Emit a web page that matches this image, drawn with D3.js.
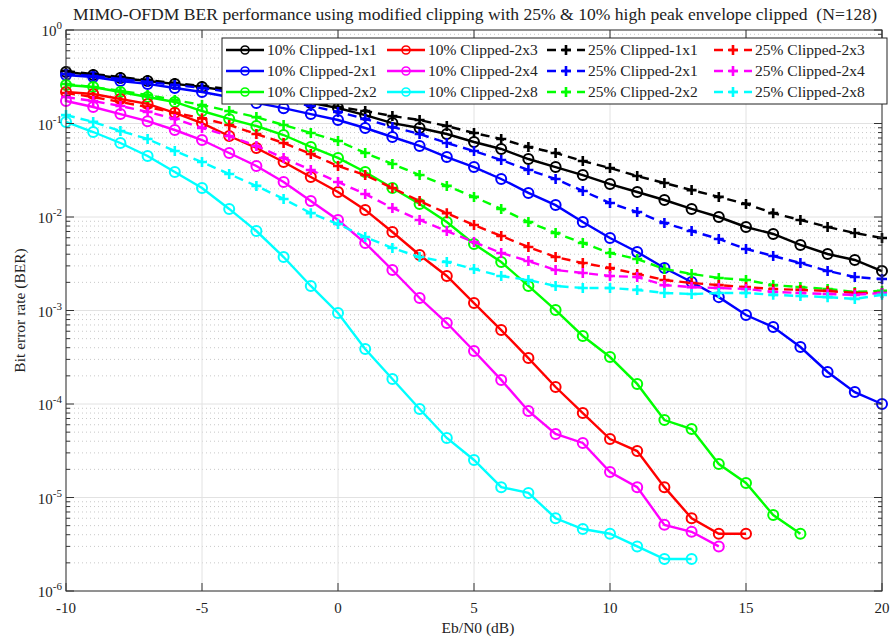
<!DOCTYPE html>
<html>
<head>
<meta charset="utf-8">
<script src="https://cdn.jsdelivr.net/npm/d3@7"></script>
<style>
  body { margin: 0; background: #fff; }
  svg text { font-family: "Liberation Serif", "Times New Roman", serif; fill: #222; }
</style>
</head>
<body>
<div id="chart"></div>
<script>
const svgWidth = 895;
const svgHeight = 639;
const margins = {top: 30, right: 13, bottom: 48, left: 66};

// Eb/N0 axis (dB)
const snr = d3.range(-10, 21);

// BER values, one array per curve
const ber10_1x1 = [0.356, 0.330, 0.307, 0.285, 0.265, 0.246, 0.223, 0.202, 0.183, 0.166, 0.1465, 0.123, 0.101, 0.0895, 0.0772, 0.0634, 0.0534, 0.0417, 0.0342, 0.0281, 0.0225, 0.0185, 0.0152, 0.0122, 0.0100, 0.00782, 0.00658, 0.00502, 0.00402, 0.00347, 0.00264];
const ber10_2x1 = [0.330, 0.314, 0.285, 0.265, 0.240, 0.217, 0.192, 0.166, 0.146, 0.126, 0.109, 0.0895, 0.0717, 0.0575, 0.0438, 0.0342, 0.0255, 0.0181, 0.0134, 0.00884, 0.00596, 0.00422, 0.00285, 0.00202, 0.00139, 0.000895, 0.000666, 0.000407, 0.000220, 0.000134, 0.0001];
const ber10_2x2 = [0.258, 0.246, 0.217, 0.192, 0.170, 0.136, 0.112, 0.0940, 0.0753, 0.0561, 0.0428, 0.0303, 0.0204, 0.0138, 0.00884, 0.00514, 0.00330, 0.00183, 0.00101, 0.000534, 0.000318, 0.000164, 0.0000674, 0.0000540, 0.0000228, 0.0000143, 0.0000065, 0.0000041];
const ber10_2x3 = [0.217, 0.207, 0.183, 0.162, 0.130, 0.101, 0.0735, 0.0547, 0.0387, 0.0268, 0.0185, 0.0119, 0.00691, 0.00392, 0.00234, 0.00120, 0.000618, 0.000310, 0.000152, 0.0000801, 0.0000422, 0.0000314, 0.0000129, 0.0000060, 0.0000041, 0.0000041];
const ber10_2x4 = [0.174, 0.150, 0.126, 0.106, 0.0852, 0.0666, 0.0484, 0.0351, 0.0237, 0.0148, 0.00929, 0.00527, 0.00271, 0.00136, 0.000735, 0.000369, 0.000181, 0.0000842, 0.0000478, 0.0000383, 0.0000187, 0.0000129, 0.0000051, 0.0000043, 0.0000030];
const ber10_2x8 = [0.104, 0.0811, 0.0619, 0.0449, 0.0303, 0.0204, 0.0122, 0.00708, 0.00373, 0.00183, 0.000940, 0.000388, 0.000185, 0.0000884, 0.0000433, 0.0000252, 0.0000129, 0.0000112, 0.0000060, 0.0000046, 0.0000041, 0.0000030, 0.0000022, 0.0000022];

const ber25_1x1 = [0.364, 0.338, 0.314, 0.292, 0.271, 0.252, 0.234, 0.212, 0.197, 0.174, 0.150, 0.136, 0.120, 0.109, 0.0940, 0.0791, 0.0683, 0.0561, 0.0484, 0.0397, 0.0334, 0.0274, 0.0231, 0.0194, 0.0164, 0.0138, 0.0110, 0.00929, 0.00782, 0.00674, 0.00596];
const ber25_2x1 = [0.338, 0.322, 0.299, 0.278, 0.258, 0.240, 0.217, 0.197, 0.178, 0.154, 0.133, 0.112, 0.0918, 0.0772, 0.0619, 0.0508, 0.0407, 0.0318, 0.0255, 0.0190, 0.0141, 0.0113, 0.00862, 0.00708, 0.00582, 0.00455, 0.00383, 0.00322, 0.00265, 0.00228, 0.00217];
const ber25_2x2 = [0.265, 0.246, 0.223, 0.202, 0.178, 0.158, 0.136, 0.117, 0.0964, 0.0791, 0.0650, 0.0484, 0.0369, 0.0281, 0.0215, 0.0164, 0.0122, 0.00884, 0.00674, 0.00527, 0.00412, 0.00355, 0.00278, 0.00246, 0.00223, 0.00212, 0.00187, 0.00178, 0.00170, 0.00158, 0.00162];
const ber25_2x3 = [0.212, 0.192, 0.170, 0.150, 0.130, 0.114, 0.0964, 0.0772, 0.0619, 0.0472, 0.0351, 0.0281, 0.0204, 0.0148, 0.0110, 0.00821, 0.00626, 0.00478, 0.00373, 0.00322, 0.00285, 0.00246, 0.00212, 0.00197, 0.00187, 0.00178, 0.00170, 0.00166, 0.00162, 0.00154, 0.00154];
const ber25_2x4 = [0.192, 0.174, 0.154, 0.133, 0.112, 0.0895, 0.0735, 0.0575, 0.0428, 0.0318, 0.0237, 0.0176, 0.0125, 0.00929, 0.00708, 0.00540, 0.00412, 0.00338, 0.00271, 0.00252, 0.00234, 0.00228, 0.00187, 0.00178, 0.00174, 0.00170, 0.00158, 0.00154, 0.00150, 0.00147, 0.00154];
const ber25_2x8 = [0.123, 0.104, 0.0831, 0.0683, 0.0508, 0.0387, 0.0288, 0.0215, 0.0156, 0.0110, 0.00841, 0.00611, 0.00466, 0.00373, 0.00330, 0.00278, 0.00234, 0.00212, 0.00183, 0.00174, 0.00174, 0.00166, 0.00154, 0.00150, 0.00154, 0.00154, 0.00147, 0.00143, 0.00139, 0.00133, 0.00147];

const seriesNames = ["10% Clipped-1x1", "10% Clipped-2x1", "10% Clipped-2x2", "10% Clipped-2x3", "10% Clipped-2x4", "10% Clipped-2x8",
                     "25% Clipped-1x1", "25% Clipped-2x1", "25% Clipped-2x2", "25% Clipped-2x3", "25% Clipped-2x4", "25% Clipped-2x8"];
const seriesValues = [ber10_1x1, ber10_2x1, ber10_2x2, ber10_2x3, ber10_2x4, ber10_2x8,
                      ber25_1x1, ber25_2x1, ber25_2x2, ber25_2x3, ber25_2x4, ber25_2x8];
const seriesColors = ["#000000", "#0000ff", "#00ff00", "#ff0000", "#ff00ff", "#00ffff",
                      "#000000", "#0000ff", "#00ff00", "#ff0000", "#ff00ff", "#00ffff"];

const xTicks = [-10, -5, 0, 5, 10, 15, 20];
const yExponents = [0, -1, -2, -3, -4, -5, -6];

const title = "MIMO-OFDM BER performance using modified clipping with 25% & 10% high peak envelope clipped  (N=128)";
const xLabel = "Eb/N0 (dB)";
const yLabel = "Bit error rate (BER)";

// build series table
const series = seriesNames.map((name, i) => ({
    name: name,
    color: seriesColors[i],
    dashed: name.startsWith("25%"),
    points: seriesValues[i].map((v, j) => ({x: snr[j], y: v}))
}));

const svg = d3.select("#chart").append("svg")
    .attr("width", svgWidth)
    .attr("height", svgHeight);

const xScale = d3.scaleLinear()
    .domain([-10, 20])
    .range([margins.left, svgWidth - margins.right]);

const yScale = d3.scaleLog()
    .domain([1e-6, 1])
    .range([svgHeight - margins.bottom, margins.top]);

const x0 = xScale.range()[0], x1 = xScale.range()[1];
const yb = yScale.range()[0], yt = yScale.range()[1];

// grid: minor dotted first, then major
const minorVals = [];
for (let e = -6; e < 0; e++) {
    for (let m = 2; m <= 9; m++) minorVals.push(m * Math.pow(10, e));
}
const grid = svg.append("g");
grid.selectAll(".minor").data(minorVals).join("line")
    .attr("x1", x0).attr("x2", x1)
    .attr("y1", d => yScale(d)).attr("y2", d => yScale(d))
    .attr("stroke", "#c8c8c8").attr("stroke-width", 1)
    .attr("stroke-dasharray", "1,3");
grid.selectAll(".majorY").data(yExponents).join("line")
    .attr("x1", x0).attr("x2", x1)
    .attr("y1", d => yScale(Math.pow(10, d))).attr("y2", d => yScale(Math.pow(10, d)))
    .attr("stroke", "#e2e2e2").attr("stroke-width", 1);
grid.selectAll(".majorX").data(xTicks).join("line")
    .attr("x1", d => xScale(d)).attr("x2", d => xScale(d))
    .attr("y1", yt).attr("y2", yb)
    .attr("stroke", "#e2e2e2").attr("stroke-width", 1);

// curves
const line = d3.line().x(d => xScale(d.x)).y(d => yScale(d.y));
const plot = svg.append("g");

series.forEach(s => {
    const g = plot.append("g");
    g.append("path")
        .datum(s.points)
        .attr("d", line)
        .attr("fill", "none")
        .attr("stroke", s.color)
        .attr("stroke-width", 2.4)
        .attr("stroke-dasharray", s.dashed ? "9,6" : null);
    if (s.dashed) {
        g.selectAll("path.mk").data(s.points).join("path")
            .attr("class", "mk")
            .attr("d", d => {
                const cx = xScale(d.x), cy = yScale(d.y), r = 5;
                return `M${cx - r},${cy}H${cx + r}M${cx},${cy - r}V${cy + r}`;
            })
            .attr("stroke", s.color)
            .attr("stroke-width", 2.6);
    } else {
        g.selectAll("circle").data(s.points).join("circle")
            .attr("cx", d => xScale(d.x))
            .attr("cy", d => yScale(d.y))
            .attr("r", 5)
            .attr("fill", "none")
            .attr("stroke", s.color)
            .attr("stroke-width", 2);
    }
});

// axes box
const axisColor = "#333";
svg.append("rect")
    .attr("x", x0).attr("y", yt)
    .attr("width", x1 - x0).attr("height", yb - yt)
    .attr("fill", "none").attr("stroke", axisColor).attr("stroke-width", 1);

const ticks = svg.append("g").attr("stroke", axisColor).attr("stroke-width", 1);
xTicks.forEach(t => {
    ticks.append("line").attr("x1", xScale(t)).attr("x2", xScale(t)).attr("y1", yb).attr("y2", yb - 8);
    ticks.append("line").attr("x1", xScale(t)).attr("x2", xScale(t)).attr("y1", yt).attr("y2", yt + 8);
});
yExponents.forEach(e => {
    const yy = yScale(Math.pow(10, e));
    ticks.append("line").attr("x1", x0).attr("x2", x0 + 8).attr("y1", yy).attr("y2", yy);
    ticks.append("line").attr("x1", x1).attr("x2", x1 - 8).attr("y1", yy).attr("y2", yy);
});
minorVals.forEach(v => {
    const yy = yScale(v);
    ticks.append("line").attr("x1", x0).attr("x2", x0 + 4).attr("y1", yy).attr("y2", yy);
    ticks.append("line").attr("x1", x1).attr("x2", x1 - 4).attr("y1", yy).attr("y2", yy);
});

// tick labels
svg.append("g").selectAll("text").data(xTicks).join("text")
    .attr("x", d => xScale(d))
    .attr("y", yb + 22)
    .attr("text-anchor", "middle")
    .attr("font-size", 15)
    .text(d => d);

const yl = svg.append("g").selectAll("text").data(yExponents).join("text")
    .attr("x", x0 - 4)
    .attr("y", d => yScale(Math.pow(10, d)) + 6)
    .attr("text-anchor", "end")
    .attr("font-size", 15);
yl.append("tspan").text("10");
yl.append("tspan").attr("dy", -7).attr("font-size", 11).text(d => d);

// titles
svg.append("text")
    .attr("x", 73).attr("y", 20)
    .attr("font-size", 17)
    .attr("fill", "#000")
    .attr("textLength", 804)
    .attr("lengthAdjust", "spacingAndGlyphs")
    .style("white-space", "pre")
    .text(title);
svg.append("text")
    .attr("x", (x0 + x1) / 2 + 4).attr("y", 633)
    .attr("text-anchor", "middle")
    .attr("font-size", 15.5)
    .text(xLabel);
svg.append("text")
    .attr("transform", `translate(25,${(yt + yb) / 2}) rotate(-90)`)
    .attr("text-anchor", "middle")
    .attr("font-size", 15.5)
    .text(yLabel);

// legend: 4 columns, 3 rows, column-major
const legX = 222, legY = 38, legW = 665, legH = 66;
const colX = [224, 385, 545, 712];
const rowY = [50, 71, 92];
const legend = svg.append("g");
legend.append("rect")
    .attr("x", legX).attr("y", legY).attr("width", legW).attr("height", legH)
    .attr("fill", "#fff").attr("stroke", "#222").attr("stroke-width", 1);

series.forEach((s, i) => {
    const cx = colX[Math.floor(i / 3)], cy = rowY[i % 3];
    const g = legend.append("g").attr("transform", `translate(${cx},${cy})`);
    g.append("line")
        .attr("x1", 2).attr("x2", 40).attr("y1", 0).attr("y2", 0)
        .attr("stroke", s.color).attr("stroke-width", 2.4)
        .attr("stroke-dasharray", s.dashed ? "9,6" : null);
    if (s.dashed) {
        g.append("path").attr("d", "M16,0H26M21,-5V5")
            .attr("stroke", s.color).attr("stroke-width", 2.6);
    } else {
        g.append("circle").attr("cx", 21).attr("cy", 0).attr("r", 4)
            .attr("fill", "none").attr("stroke", s.color).attr("stroke-width", 1.6);
    }
    g.append("text")
        .attr("x", 43).attr("y", 5)
        .attr("font-size", 15.5)
        .attr("fill", "#000")
        .text(s.name);
});
</script>
</body>
</html>
